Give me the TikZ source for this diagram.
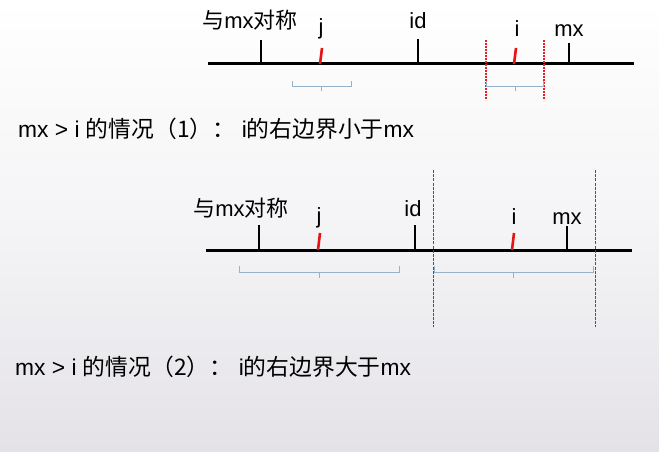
\documentclass[tikz,border=0pt]{standalone}
\usepackage{fontspec}
\setmainfont{Liberation Sans}
\newfontfamily\cjk{Noto Sans CJK SC}
\definecolor{bgbot}{RGB}{228,226,231}
\definecolor{brk}{RGB}{150,178,200}
\definecolor{tickred}{RGB}{230,20,20}
\definecolor{guidered}{RGB}{235,30,40}
\begin{document}
\begin{tikzpicture}[x=1pt,y=-1pt,
  lbl/.style={inner sep=0pt,anchor=base,font=\fontsize{22}{24}\selectfont},
  txt/.style={inner sep=0pt,anchor=base west,font=\fontsize{22.8}{25}\selectfont},
  axis/.style={line width=3pt},
  blk/.style={line width=1.5pt},
  redtick/.style={line width=2.6pt,tickred},
  bracketline/.style={brk,line width=0.8pt},
  guide/.style={guidered,line width=1.1pt,dash pattern=on 2pt off 1pt},
  guidelow/.style={tickred,line width=1.3pt,dash pattern=on 3pt off 1.2pt}]
\shade[top color=white,bottom color=bgbot,middle color=white!60!bgbot] (0,0) rectangle (659,452);
\useasboundingbox (0,0) rectangle (659,452);
% ---------- top diagram ----------
\coordinate (a1l) at (208,64); \coordinate (a1r) at (634,64);
\draw[axis] (a1l) -- (a1r);
\coordinate (s1) at (261,64); \coordinate (s1t) at (261,40);
\coordinate (j1) at (320,64); \coordinate (j1t) at (322,48);
\coordinate (d1) at (418,64); \coordinate (d1t) at (418,39);
\coordinate (i1) at (514,64); \coordinate (i1t) at (516,48);
\coordinate (m1) at (569,64); \coordinate (m1t) at (569,43);
\draw[blk] (s1) -- (s1t);
\draw[blk] (d1) -- (d1t);
\draw[blk] (m1) -- (m1t);
\draw[redtick] (j1) -- (j1t);
\draw[redtick] (i1) -- (i1t);
\node[lbl] (ls1) at (250,29) {{\cjk 与}mx{\cjk 对称}};
\node[lbl] (lj1) at (321,35) {j};
\node[lbl] (ld1) at (418,29) {id};
\node[lbl] (li1) at (517,37) {i};
\node[lbl] (lm1) at (569,37) {mx};
\coordinate (g1a) at (486,40); \coordinate (g1ab) at (486,100);
\coordinate (g1b) at (544,40); \coordinate (g1bb) at (544,100);
\draw[guide] (g1a) -- (g1ab);
\draw[guide] (g1b) -- (g1bb);
\draw[bracketline] (292,81) |- (351,86) -- (351,81);
\draw[bracketline] (321,86) -- (321,91);
\draw[bracketline] (486,81) |- (543,86) -- (543,81);
\draw[bracketline] (515,86) -- (515,91);
\node[txt] (t1) at (18,137) {mx > i {\cjk 的情况（1）：} i{\cjk 的右边界小于}mx};
% ---------- bottom diagram ----------
\coordinate (a2l) at (206,250); \coordinate (a2r) at (632,250);
\draw[axis] (a2l) -- (a2r);
\coordinate (s2) at (259,250); \coordinate (s2t) at (259,225);
\coordinate (j2) at (318,250); \coordinate (j2t) at (320,233);
\coordinate (d2) at (415,250); \coordinate (d2t) at (415,225);
\coordinate (i2) at (512,250); \coordinate (i2t) at (514,233);
\coordinate (m2) at (567,250); \coordinate (m2t) at (567,226);
\draw[blk] (s2) -- (s2t);
\draw[blk] (d2) -- (d2t);
\draw[blk] (m2) -- (m2t);
\draw[redtick] (j2) -- (j2t);
\draw[redtick] (i2) -- (i2t);
\node[lbl] (ls2) at (241,216) {{\cjk 与}mx{\cjk 对称}};
\node[lbl] (lj2) at (319,223) {j};
\node[lbl] (ld2) at (413,216) {id};
\node[lbl] (li2) at (514,224) {i};
\node[lbl] (lm2) at (567,224) {mx};
\coordinate (g2a) at (433.5,170); \coordinate (g2ab) at (433.5,327);
\coordinate (g2b) at (595.5,170); \coordinate (g2bb) at (595.5,327);
\draw[guidelow] (g2a) -- (g2ab);
\draw[guidelow] (g2b) -- (g2bb);
\draw[bracketline] (239,266) |- (399,272) -- (399,266);
\draw[bracketline] (319,272) -- (319,278);
\draw[bracketline] (434,266) |- (593,272) -- (593,266);
\draw[bracketline] (513,272) -- (513,278);
\node[txt] (t2) at (15,375) {mx > i {\cjk 的情况（2）：} i{\cjk 的右边界大于}mx};
\end{tikzpicture}
\end{document}
